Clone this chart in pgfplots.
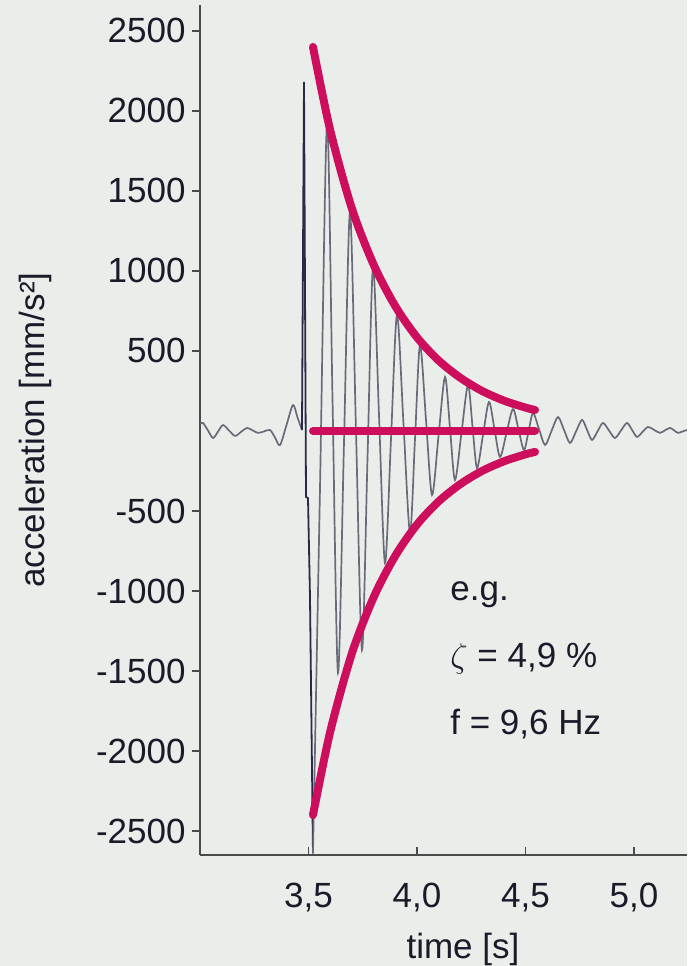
\documentclass[border=0pt]{standalone}
\usepackage{pgfplots}
\pgfplotsset{compat=1.18}
\usepackage{fontspec}
\setmainfont{Liberation Sans}
\definecolor{bg}{HTML}{E9EEEA}
\definecolor{env}{HTML}{CC0E5C}
\definecolor{sig}{HTML}{6A6A78}
\definecolor{spk}{HTML}{2A2A46}
\definecolor{txt}{HTML}{1A1A28}
\definecolor{axc}{HTML}{4A4A4A}
\newcommand{\bigf}{\fontsize{17.5}{21}\selectfont}
\begin{document}
\begin{tikzpicture}
\fill[bg] (-100pt,-55.5pt) rectangle (243.5pt,427.5pt);
\path[use as bounding box] (-100pt,-55.5pt) rectangle (243.5pt,427.5pt);
\begin{axis}[
  at={(0,0)}, anchor=south west,
  scale only axis, width=243.5pt, height=425pt,
  xmin=3.0, xmax=5.2442, ymin=-2650, ymax=2662,
  axis x line=bottom, axis y line=left,
  axis line style={-, draw=axc, line width=0.75pt},
  xtick={3.5,4,4.5,5},
  xticklabels={{3,5},{4,0},{4,5},{5,0}},
  ytick={-2500,-2000,-1500,-1000,-500,500,1000,1500,2000,2500},
  yticklabels={-2500,-2000,-1500,-1000,-500,500,1000,1500,2000,2500},
  xtick align=inside, ytick align=outside,
  major tick length=4pt,
  tick style={draw=axc, line width=0.75pt},
  tick label style={font=\bigf, text=txt},
  label style={font=\bigf, text=txt},
  yticklabel style={anchor=east, inner sep=0pt, xshift=-3pt},
  xticklabel style={anchor=base, inner sep=0pt, yshift=-26.5pt},
  xlabel={time [s]},
  xlabel style={at={(rel axis cs:0.54,0)}, anchor=center, yshift=-47pt},
  ylabel={acceleration [mm/s²]},
  ylabel style={at={([xshift=-82.5pt]rel axis cs:0,0.5)}, anchor=center},
]
% pre-event wiggle
\addplot[sig, line width=0.85pt, smooth] coordinates {
(3.002,45)(3.0138,50)(3.0369,3)(3.0599,-44)(3.0830,-4)(3.1060,37)(3.1337,3)
(3.1613,-31)(3.1890,-6)(3.2166,19)(3.2420,4)(3.2673,-12)(3.2950,-3)(3.3226,6)
(3.3457,-41)(3.3687,-88)(3.3987,37)(3.4286,162)(3.4493,84)(3.4700,6)
};
% impact spike
\addplot[spk, line width=0.9pt] coordinates {
(3.4700,6)(3.4793,2181)(3.4885,-412)(3.4977,-420)(3.5069,-1037)(3.5207,-2640)
};
% decaying response
\addplot[sig, line width=0.85pt, smooth] coordinates {
(3.5207,-2640)(3.5530,-358)(3.5853,1925)(3.6106,207)(3.6359,-1512)(3.6636,-72)
(3.6912,1369)(3.7189,0)(3.7465,-1369)(3.7719,-172)(3.7972,1025)(3.8249,100)
(3.8525,-825)(3.8802,-50)(3.9078,725)(3.9378,44)(3.9677,-637)(3.9908,-50)
(4.0138,537)(4.0415,69)(4.0691,-400)(4.0991,-32)(4.1290,337)(4.1521,16)
(4.1751,-306)(4.2051,-10)(4.2350,287)(4.2558,28)(4.2765,-231)(4.3042,-25)
(4.3318,181)(4.3572,10)(4.3825,-162)(4.4125,-13)(4.4424,137)(4.4678,9)
(4.4931,-119)(4.5139,-4)(4.5346,112)(4.5620,13)(4.5900,-87)(4.6199,0)
(4.6498,87)(4.6775,6)(4.7051,-75)(4.7328,-3)(4.7604,69)(4.7835,7)
(4.8065,-56)(4.8318,-3)(4.8571,50)(4.8848,3)(4.9124,-44)(4.9401,3)
(4.9677,50)(4.9908,7)(5.0138,-37)(5.0392,-6)(5.0645,25)(5.0922,7)
(5.1198,-12)(5.1429,4)(5.1659,19)(5.1844,4)(5.2028,-12)(5.2235,-3)(5.2442,6)
};
% envelope
\addplot[env, line width=4pt, smooth, line cap=round] coordinates {
(3.5207,2400)(3.60,1880)(3.70,1390)(3.80,1040)(3.90,780)(4.00,585)
(4.10,440)(4.20,332)(4.30,250)(4.40,190)(4.50,146)(4.544,131)
};
\addplot[env, line width=4pt, smooth, line cap=round] coordinates {
(3.5207,-2400)(3.60,-1880)(3.70,-1390)(3.80,-1040)(3.90,-780)(4.00,-585)
(4.10,-440)(4.20,-332)(4.30,-250)(4.40,-190)(4.50,-146)(4.544,-131)
};
\addplot[env, line width=4pt, line cap=round] coordinates {(3.5207,0)(4.544,0)};
\node[anchor=base west, text=txt, font=\bigf, inner sep=0pt] at (axis cs:4.152,-1062) {e.g.};
\node[anchor=base west, text=txt, font=\bigf, inner sep=0pt] at (axis cs:4.152,-1481) {$\zeta$ = 4,9 \%};
\node[anchor=base west, text=txt, font=\bigf, inner sep=0pt] at (axis cs:4.152,-1900) {f = 9,6 Hz};
\end{axis}
\end{tikzpicture}
\end{document}
